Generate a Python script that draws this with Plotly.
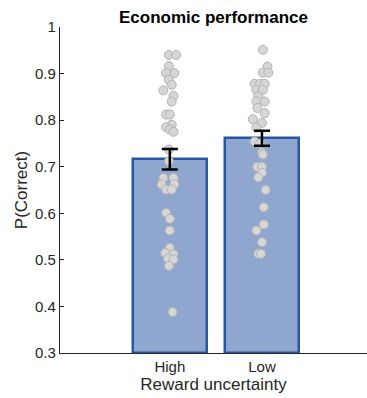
import plotly.graph_objects as go

categories = ["High", "Low"]
cat_pos = [1, 2]
means = [0.716, 0.761]
err_upper = [0.738, 0.777]
err_lower = [0.694, 0.745]

high_vals = [0.940, 0.940, 0.916, 0.901, 0.901, 0.887, 0.876, 0.864, 0.852, 0.840,
             0.812, 0.812, 0.790, 0.785, 0.780, 0.775, 0.737, 0.712, 0.676, 0.676,
             0.662, 0.662, 0.651, 0.651, 0.601, 0.588, 0.563, 0.526, 0.515, 0.512,
             0.503, 0.501, 0.487, 0.388]
high_jitter = [-0.01, 0.07, -0.01, -0.04, 0.05, -0.01, 0.02, -0.07, 0.04, 0.02,
               -0.04, 0.00, 0.02, -0.04, 0.00, 0.04, -0.01, -0.01, -0.07, 0.04,
               -0.09, 0.05, -0.04, 0.02, -0.04, 0.00, 0.00, 0.00, -0.05, 0.04,
               -0.02, 0.04, -0.01, 0.03]

low_vals = [0.951, 0.915, 0.902, 0.902, 0.878, 0.878, 0.878, 0.865, 0.865, 0.851,
            0.840, 0.840, 0.826, 0.815, 0.802, 0.794, 0.784, 0.754, 0.750, 0.730,
            0.726, 0.700, 0.700, 0.687, 0.677, 0.650, 0.613, 0.576, 0.563, 0.538,
            0.513, 0.513]
low_jitter = [0.01, 0.06, 0.01, 0.07, -0.08, -0.02, 0.03, -0.06, 0.01, -0.04,
              -0.06, 0.03, -0.05, 0.03, -0.10, 0.00, -0.06, -0.08, -0.02, 0.00,
              0.01, -0.05, 0.00, 0.00, -0.04, 0.04, 0.02, 0.02, -0.06, 0.00,
              -0.04, -0.01]

BAR_FILL = "rgb(143,167,207)"
BAR_EDGE = "rgb(40,86,166)"
DOT_FILL = "rgb(214,214,214)"
DOT_EDGE = "rgb(178,178,178)"
TXT = "rgb(38,38,38)"
FONT = "Liberation Sans, Arial, sans-serif"

fig = go.Figure()

fig.add_trace(go.Bar(
    x=cat_pos, y=[m - 0.3 for m in means], base=[0.3, 0.3], width=0.81,
    marker=dict(color=BAR_FILL, line=dict(color=BAR_EDGE, width=2.5)),
    showlegend=False, hoverinfo="skip"))

fig.add_trace(go.Scatter(
    x=[cat_pos[0] + j for j in high_jitter], y=high_vals, mode="markers",
    marker=dict(size=9, color=DOT_FILL, line=dict(color=DOT_EDGE, width=1)),
    showlegend=False, cliponaxis=False))
fig.add_trace(go.Scatter(
    x=[cat_pos[1] + j for j in low_jitter], y=low_vals, mode="markers",
    marker=dict(size=9, color=DOT_FILL, line=dict(color=DOT_EDGE, width=1)),
    showlegend=False, cliponaxis=False))

fig.add_trace(go.Scatter(
    x=cat_pos, y=means, mode="markers",
    marker=dict(size=1, opacity=0),
    error_y=dict(type="data", symmetric=False,
                 array=[u - m for u, m in zip(err_upper, means)],
                 arrayminus=[m - l for m, l in zip(means, err_lower)],
                 color="black", thickness=2.5, width=8),
    showlegend=False))

fig.update_layout(
    width=367, height=398,
    margin=dict(l=60, r=0, t=27, b=45),
    plot_bgcolor="white", paper_bgcolor="white",
    font=dict(family=FONT, size=15, color=TXT),
    title=dict(text="<b>Economic performance</b>", x=0.5, xref="paper",
               y=1 - 17 / 398, yref="container", yanchor="middle",
               font=dict(size=17, color="black")),
    bargap=0,
)

fig.update_xaxes(
    range=[-0.192, 3.14], tickvals=cat_pos, ticktext=categories,
    showline=True, linecolor=TXT, linewidth=1.3, mirror=False,
    ticks="inside", ticklen=4, tickcolor=TXT, tickwidth=1,
    showgrid=False, zeroline=False, layer="below traces",
    title=dict(text="Reward uncertainty", font=dict(size=17, color=TXT), standoff=2),
    tickfont=dict(size=15, color=TXT))

fig.update_yaxes(
    range=[0.3, 1.0], tickvals=[0.3, 0.4, 0.5, 0.6, 0.7, 0.8, 0.9, 1.0],
    ticktext=["0.3", "0.4", "0.5", "0.6", "0.7", "0.8", "0.9", "1"],
    showline=True, linecolor=TXT, linewidth=1.3,
    ticks="inside", ticklen=4, tickcolor=TXT, tickwidth=1,
    showgrid=False, zeroline=False,
    title=dict(text="P(Correct)", font=dict(size=17, color=TXT), standoff=3),
    tickfont=dict(size=15, color=TXT))

fig.write_html("out.html")
